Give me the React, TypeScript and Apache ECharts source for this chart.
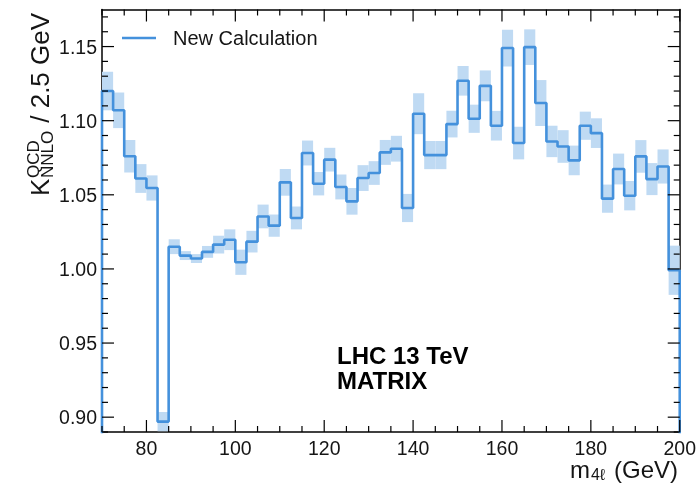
import React, { useEffect, useRef } from "react";
import * as echarts from "echarts";

const binStart = 70;
const binWidth = 2.5;
const kFactor = [
  1.120, 1.107, 1.076, 1.061, 1.0546, 0.897, 1.015, 1.009, 1.007, 1.0115,
  1.0164, 1.0197, 1.0045, 1.0184, 1.0354, 1.0292, 1.0584, 1.0344, 1.0782, 1.0575,
  1.0737, 1.0553, 1.0456, 1.0613, 1.0647, 1.0786, 1.0811, 1.0411, 1.1047, 1.0768,
  1.0768, 1.0977, 1.1269, 1.1013, 1.1235, 1.0966, 1.149, 1.0849, 1.1496, 1.1119,
  1.086, 1.0826, 1.0732, 1.0966, 1.0916, 1.0474, 1.0674, 1.0494, 1.0759, 1.0606,
  1.0691, 0.9991,
];
const kUncertainty = [
  0.013, 0.012, 0.011, 0.0097, 0.0085, 0.0065, 0.005, 0.003, 0.003, 0.004,
  0.006, 0.007, 0.0085, 0.0073, 0.008, 0.0075, 0.009, 0.0077, 0.0084, 0.0079,
  0.008, 0.0084, 0.009, 0.0087, 0.008, 0.0084, 0.0087, 0.0095, 0.0138, 0.0095,
  0.0095, 0.009, 0.01, 0.0095, 0.0104, 0.01, 0.0124, 0.011, 0.012, 0.0155,
  0.0106, 0.011, 0.01, 0.0095, 0.01, 0.0095, 0.0104, 0.0099, 0.011, 0.0108,
  0.0115, 0.0166,
];
const xMajorTicks = [80, 100, 120, 140, 160, 180, 200];
const yMajorTicks = [0.9, 0.95, 1.0, 1.05, 1.1, 1.15];
const xMinorStep = 5;
const yMinorStep = 0.01;
const xMin = 70;
const xMax = 200;
const yMin = 0.89;
const yMax = 1.175;
const seriesName = "New Calculation";

const LINE = "#4491dc";
const BAND = "#bfdaf3";
const FONT = "Liberation Sans";
const TXT = "#151515";

export default function App() {
  const ref = useRef<HTMLDivElement>(null);
  useEffect(() => {
    if (!ref.current) return;
    const chart = echarts.init(ref.current, undefined, { renderer: "svg" });

    const bands = kFactor.map((v, i) => [
      binStart + i * binWidth,
      binStart + (i + 1) * binWidth,
      v - kUncertainty[i],
      v + kUncertainty[i],
    ]);
    const steps: number[][] = [[binStart, 0]];
    kFactor.forEach((v, i) => steps.push([binStart + i * binWidth, v]));
    const lastEdge = binStart + kFactor.length * binWidth;
    steps.push([lastEdge, kFactor[kFactor.length - 1]]);
    steps.push([lastEdge, 0]);

    const isNear = (a: number, list: number[]) => list.some((b) => Math.abs(a - b) < 1e-6);
    const xTicks: number[][] = [];
    for (let k = 0; xMin + k * xMinorStep <= xMax + 1e-9; k++) {
      const v = xMin + k * xMinorStep;
      xTicks.push([v, yMin, isNear(v, xMajorTicks) ? 1 : 0]);
    }
    const yTicks: number[][] = [];
    for (let k = 0; yMin + k * yMinorStep <= yMax + 1e-9; k++) {
      const v = Math.round((yMin + k * yMinorStep) * 1000) / 1000;
      yTicks.push([xMin, v, isNear(v, yMajorTicks) ? 1 : 0]);
    }

    const axisBase = (pos: string, min: number, max: number) => ({
      type: "value",
      position: pos,
      min,
      max,
      splitLine: { show: false },
      axisTick: { show: false },
      axisLine: { show: true, onZero: false, lineStyle: { color: "#000", width: 1.5 } },
    });

    chart.setOption({
      animation: false,
      grid: { left: 102, right: 19, top: 9.5, bottom: 53 },
      legend: {
        show: true,
        data: [seriesName],
        left: 117,
        top: 23,
        icon: "rect",
        itemWidth: 34,
        itemHeight: 2.5,
        textStyle: { fontSize: 20, fontFamily: FONT, color: TXT, padding: [0, 0, 0, 12] },
      },
      xAxis: [
        {
          ...axisBase("bottom", xMin, xMax),
          axisLabel: { customValues: xMajorTicks, fontSize: 19.5, fontFamily: FONT, color: TXT, margin: 6 },
        },
        { ...axisBase("top", xMin, xMax), axisLabel: { show: false } },
      ],
      yAxis: [
        {
          ...axisBase("left", yMin, yMax),
          axisLabel: {
            customValues: yMajorTicks,
            fontSize: 19.5,
            fontFamily: FONT,
            color: TXT,
            margin: 5,
            formatter: (v: number) => v.toFixed(2),
          },
        },
        { ...axisBase("right", yMin, yMax), axisLabel: { show: false } },
      ],
      series: [
        {
          type: "custom",
          name: "band",
          data: bands,
          encode: { x: [0, 1], y: [2, 3] },
          z: 2,
          renderItem: (params: any, api: any) => {
            const p0 = api.coord([api.value(0), api.value(3)]);
            const p1 = api.coord([api.value(1), api.value(2)]);
            const cs = params.coordSys;
            const shape = echarts.graphic.clipRectByRect(
              { x: p0[0], y: p0[1], width: p1[0] - p0[0], height: p1[1] - p0[1] },
              { x: cs.x, y: cs.y, width: cs.width, height: cs.height }
            );
            if (!shape) return null;
            return { type: "rect", shape, style: { fill: BAND } };
          },
        },
        {
          type: "line",
          name: seriesName,
          step: "end",
          data: steps,
          showSymbol: false,
          symbol: "none",
          clip: true,
          z: 3,
          lineStyle: { color: LINE, width: 2.6 },
          itemStyle: { color: LINE },
        },
        {
          type: "custom",
          name: "xTicks",
          data: xTicks,
          encode: { x: 0, y: 1 },
          z: 5,
          renderItem: (params: any, api: any) => {
            const v = api.value(0);
            const len = api.value(2) ? 12 : 6;
            const pb = api.coord([v, yMin]);
            const pt = api.coord([v, yMax]);
            return {
              type: "group",
              children: [
                { type: "line", shape: { x1: pb[0], y1: pb[1], x2: pb[0], y2: pb[1] - len }, style: { stroke: "#000", lineWidth: 1.2 } },
                { type: "line", shape: { x1: pt[0], y1: pt[1], x2: pt[0], y2: pt[1] + len }, style: { stroke: "#000", lineWidth: 1.2 } },
              ],
            };
          },
        },
        {
          type: "custom",
          name: "yTicks",
          data: yTicks,
          encode: { x: 0, y: 1 },
          z: 5,
          renderItem: (params: any, api: any) => {
            const v = api.value(1);
            const len = api.value(2) ? 12 : 6;
            const pl = api.coord([xMin, v]);
            const pr = api.coord([xMax, v]);
            return {
              type: "group",
              children: [
                { type: "line", shape: { x1: pl[0], y1: pl[1], x2: pl[0] + len, y2: pl[1] }, style: { stroke: "#000", lineWidth: 1.2 } },
                { type: "line", shape: { x1: pr[0], y1: pr[1], x2: pr[0] - len, y2: pr[1] }, style: { stroke: "#000", lineWidth: 1.2 } },
              ],
            };
          },
        },
      ],
      graphic: [
        {
          type: "text",
          left: 337,
          top: 343,
          style: { text: "LHC 13 TeV\nMATRIX", font: `bold 24px ${FONT}`, fill: "#000", lineHeight: 25 },
        },
        {
          type: "group",
          x: 40,
          y: 196,
          rotation: Math.PI / 2,
          children: [
            { type: "text", x: 0, y: 0, style: { text: "K", font: `26px ${FONT}`, fill: TXT, verticalAlign: "middle" } },
            { type: "text", x: 18, y: -7, style: { text: "QCD", font: `17px ${FONT}`, fill: TXT, verticalAlign: "middle" } },
            { type: "text", x: 18, y: 7, style: { text: "NNLO", font: `17px ${FONT}`, fill: TXT, verticalAlign: "middle" } },
            { type: "text", x: 66, y: 0, style: { text: " / 2.5 GeV", font: `26px ${FONT}`, fill: TXT, verticalAlign: "middle" } },
          ],
        },
        {
          type: "group",
          x: 0,
          y: 0,
          children: [
            { type: "text", x: 678, y: 469, style: { text: "(GeV)", font: `24px ${FONT}`, fill: TXT, align: "right", verticalAlign: "middle" } },
            { type: "text", x: 591, y: 474, style: { text: "4ℓ", font: `16px ${FONT}`, fill: TXT, align: "left", verticalAlign: "middle" } },
            { type: "text", x: 590, y: 469, style: { text: "m", font: `24px ${FONT}`, fill: TXT, align: "right", verticalAlign: "middle" } },
          ],
        },
      ],
    });
    return () => chart.dispose();
  }, []);
  return <div ref={ref} style={{ position: "fixed", left: 0, top: 0, width: 699, height: 485 }} />;
}
